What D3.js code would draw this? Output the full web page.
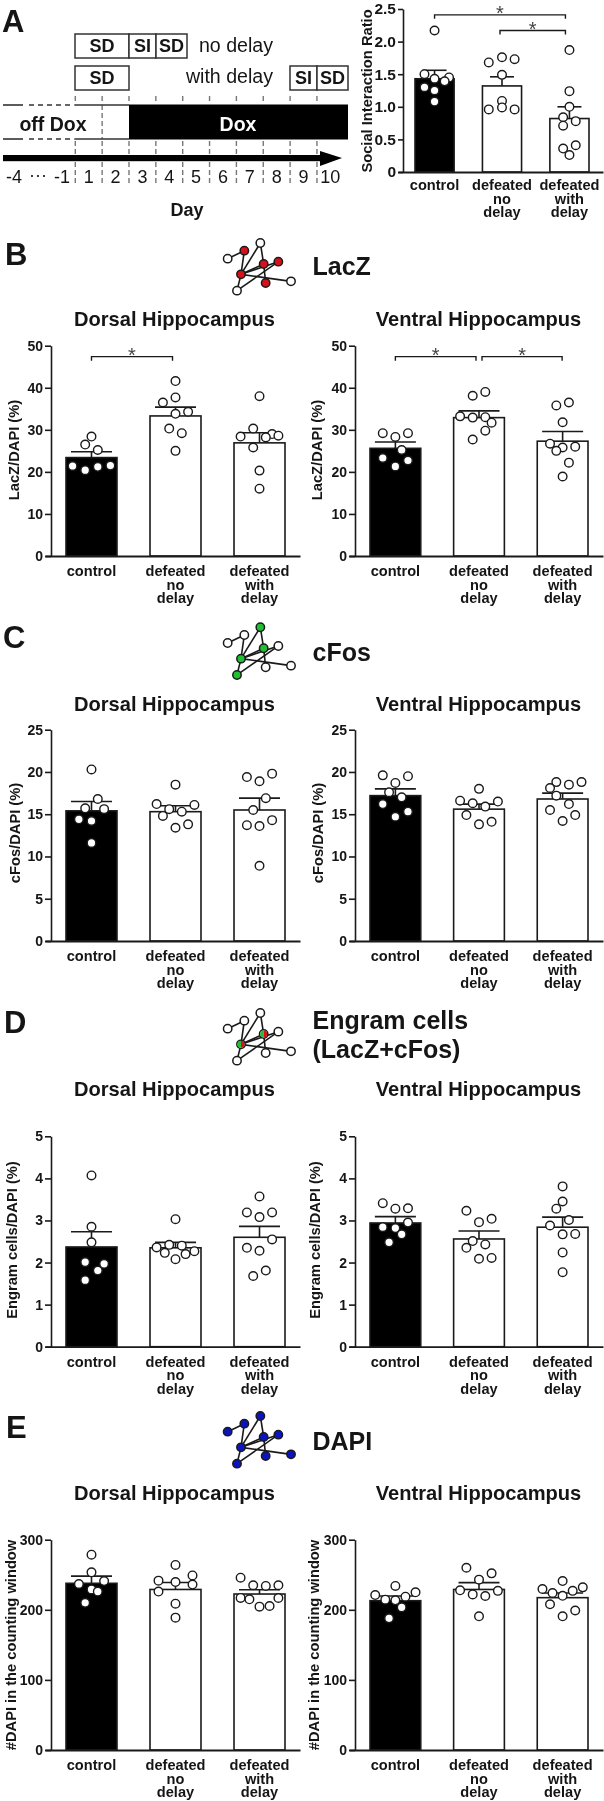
<!DOCTYPE html>
<html><head><meta charset="utf-8">
<style>
html,body{margin:0;padding:0;background:#fff}
svg{display:block;filter:blur(0.45px)}
text{font-family:"Liberation Sans",Arial,sans-serif}
</style>
<script src="https://cdn.jsdelivr.net/npm/d3@7/dist/d3.min.js"></script>
</head><body><svg id="c" width="604" height="1801"></svg>
<script>
// ---------- data ----------
const categories = ["control","defeated no delay","defeated with delay"];
const categoryLines = [["control"],["defeated","no","delay"],["defeated","with","delay"]];

const siMeans = [1.43,1.32,0.82];
const siErrs  = [1.56,1.46,1.00];
const siDots  = [[2.17,1.50,1.45,1.43,1.39,1.30,1.25,1.08],[1.68,1.76,1.73,1.49,1.09,0.99,0.96,0.96],[1.87,1.24,1.00,0.84,0.78,0.71,0.41,0.36,0.26]];
const siJitter= [[0,-1.6,2.3,0,1.6,-1.6,0,0],[-2.1,0,2,0,0,0,-2.1,2],[0,0,0,-1,1,-1,1,-1,0]];

const lacZDorsalMeans = [23.4,33.3,26.9];
const lacZDorsalErrs  = [24.8,35.4,29.3];
const lacZDorsalDots  = [[28.4,26.5,25.2,21.4,20.4,21.2,21.5],[41.6,37.7,36.5,34.3,33.8,30.3,29.2,25.0],[38.0,30.3,28.4,29.0,28.6,28.2,25.8,20.3,16.0]];
const lacZDorsalJitter= [[0,-1,1,-3,-1,1,3],[0,0,-2,2,0,-1,1,0],[0,-1,-3,2,3,1,-1,0,0]];
const lacZVentralMeans = [25.6,32.9,27.3];
const lacZVentralErrs  = [27.1,34.5,29.6];
const lacZVentralDots  = [[29.2,29.2,28.3,25.2,23.3,22.7,21.3],[39.0,38.1,33.2,32.9,33.0,31.7,29.8,27.7],[36.5,35.8,31.8,26.7,26.0,25.8,25.0,22.2,18.9]];
const lacZVentralJitter= [[-2,2,0,1,-2,2,0],[1,-1,-3,-1,1,2,1,-1],[1,-1,0,-2,2,0,-1,1,0]];

const cFosDorsalMeans = [15.4,15.3,15.5];
const cFosDorsalErrs  = [16.5,16.0,16.9];
const cFosDorsalDots  = [[20.3,16.8,15.7,15.6,14.4,14.2,11.6],[18.5,16.2,16.1,15.6,15.3,14.8,13.8,13.4],[19.8,19.4,18.9,16.9,15.5,14.3,13.7,13.6,8.9]];
const cFosDorsalJitter= [[0,1,-1,2,-2,0,0],[0,-3,3,-1,1,-2,2,0],[2,-2,0,1,-1,2,-2,0,0]];
const cFosVentralMeans = [17.2,15.6,16.8];
const cFosVentralErrs  = [18.0,16.2,17.5];
const cFosVentralDots  = [[19.6,19.5,18.7,17.6,17.0,16.2,15.3,14.7],[18.0,16.6,16.5,16.3,15.9,14.9,14.1,13.8],[18.8,18.8,18.5,18.1,17.2,16.2,15.5,14.9,14.2]];
const cFosVentralJitter= [[-2,2,0,-1,1,-2,2,0],[0,-3,3,-1,1,-2,2,0],[3,-1,1,-2,-1,1,-2,2,0]];

const engramDorsalMeans = [2.37,2.35,2.60];
const engramDorsalErrs  = [2.73,2.48,2.86];
const engramDorsalDots  = [[4.07,2.85,2.48,1.97,2.01,1.81,1.58],[3.03,2.42,2.40,2.36,2.27,2.23,2.20,2.08],[3.57,3.19,3.19,3.08,2.55,2.35,2.28,1.81,1.68]];
const engramDorsalJitter= [[0,0,0,2,-1,1,-1],[0,-1,1,-3,3,-1.7,1.6,0],[0,-2,2,0,2,-2,0,1,-1]];
const engramVentralMeans = [2.94,2.56,2.84];
const engramVentralErrs  = [3.09,2.75,3.08];
const engramVentralDots  = [[3.41,3.28,3.29,2.95,2.84,2.82,2.67,2.48],[3.23,3.04,2.96,2.51,2.43,2.35,2.09,2.11],[3.81,3.45,3.28,3.01,2.88,2.68,2.67,2.24,1.77]];
const engramVentralJitter= [[-2,0,2,2,-2,0,1,-1],[-2,2,0,-1,1,-2,0,2],[0,0,-1,1,-2,2,0,0,0]];

const dapiDorsalMeans = [237.8,229,222.5];
const dapiDorsalErrs  = [248,239,228.7];
const dapiDorsalDots  = [[278.6,253.4,241,236.8,229,226,210],[264,249,241.6,239.6,236,226,208.7,188.8],[245.8,235,234,235,217,216.8,215,204.5,205.4]];
const dapiDorsalJitter= [[0,0,2,-2,0,1,-1],[0,2.7,-2.7,0,2.7,-2.7,0,0],[-3,-1,1,3,-3,3,-1.6,0,1.6]];
const dapiVentralMeans = [213,229,217.3];
const dapiVentralErrs  = [219.7,238.7,224];
const dapiVentralDots  = [[234,225,221,218.7,214.5,213.5,203.5,187.8],[260,252,243,227.8,227,222,219.7,190.7],[241,232,229.7,227,224,220,207.8,199,190.7]];
const dapiVentralJitter= [[0,3.2,-3.2,1.6,-1.6,0,1,-1],[-2,2,0,-3,3,-1,1,0],[0,3.2,-3.2,1.6,-1.6,0,-2,2,0]];

const siTicks = [0,0.5,1,1.5,2,2.5];
const lacZTicks = [0,10,20,30,40,50];
const cFosTicks = [0,5,10,15,20,25];
const engramTicks = [0,1,2,3,4,5];
const dapiTicks = [0,100,200,300];

const dayLabels = [1,2,3,4,5,6,7,8,9,10];

// network icon
const iconNodes = [[38,80],[88,56],[136,33],[146,96],[190,89],[78,127],[152,153],[228,148],[66,176]];
const iconEdges = [[0,1],[1,5],[5,2],[2,3],[5,3],[5,4],[5,7],[5,8],[8,4],[3,6]];

// ---------- drawing ----------
const INK="#1a1a1a";
const svg=d3.select("#c");
const JIT=6.3;

function label(g,x,y,t,size,opt={}){
  return g.append("text").attr("x",x).attr("y",y).attr("dy","0.36em")
    .attr("text-anchor",opt.anchor||"middle").attr("font-size",size)
    .attr("font-weight",opt.weight||"bold").attr("fill",opt.fill||"#151515").text(t);
}

function panel(o){
  const g=svg.append("g");
  const y=d3.scaleLinear().domain(o.domain).range([o.y0,o.yTop]);
  const x=d3.scaleBand().domain(categories).range(o.barRange).paddingInner(o.padIn).paddingOuter(0);
  const ax=g.append("g").attr("transform",`translate(${o.axisX},0)`)
    .call(d3.axisLeft(y).tickValues(o.ticks).tickSize(o.tick).tickPadding(2).tickSizeOuter(0).tickFormat(o.fmt||(d=>d)));
  ax.selectAll("path,line").attr("stroke",INK).attr("stroke-width",1.6);
  ax.selectAll("text").attr("font-family",'"Liberation Sans"').attr("font-weight","bold").attr("font-size",o.tickFont||14).attr("fill","#151515");
  g.selectAll(null).data(categories).join("rect")
    .attr("x",d=>x(d)).attr("width",x.bandwidth())
    .attr("y",(d,i)=>y(o.means[i])).attr("height",(d,i)=>o.y0-y(o.means[i]))
    .attr("fill",(d,i)=>i?"#fff":"#000").attr("stroke",INK).attr("stroke-width",1.6);
  const base=d3.scaleLinear().domain([0,1]).range([o.axisX-o.tick,o.right]);
  g.append("g").attr("transform",`translate(0,${o.y0})`)
    .call(d3.axisBottom(base).tickValues([]).tickSize(0))
    .select("path").attr("stroke",INK).attr("stroke-width",1.8);
  categories.forEach((c,i)=>{
    const cx=x(c)+x.bandwidth()/2;
    g.append("line").attr("x1",cx).attr("x2",cx).attr("y1",y(o.means[i])).attr("y2",y(o.errs[i])).attr("stroke",INK).attr("stroke-width",1.6);
    g.append("line").attr("x1",cx-o.cap).attr("x2",cx+o.cap).attr("y1",y(o.errs[i])).attr("y2",y(o.errs[i])).attr("stroke",INK).attr("stroke-width",1.6);
    g.selectAll(null).data(o.dots[i]).join("circle")
      .attr("cx",(d,k)=>cx+o.jitter[i][k]*JIT).attr("cy",d=>y(d)).attr("r",o.r||4.3)
      .attr("fill","#fff").attr("stroke",INK).attr("stroke-width",1.4);
    categoryLines[i].forEach((t,k)=>label(g,cx+(o.labelShift||0),o.y0+o.labelGap+k*13.5,t,14.6));
  });
  g.append("text").attr("transform",`translate(${o.ylabX},${o.ylabY}) rotate(-90)`).attr("dy","0.36em")
    .attr("text-anchor","middle").attr("font-size",14.7).attr("font-weight","bold").attr("fill","#151515").text(o.ylab);
  if(o.title) label(g,(o.barRange[0]+o.barRange[1])/2+o.titleShift,o.titleY,o.title,20.1);
  (o.brackets||[]).forEach(b=>{
    const a=x(categories[b.from])+x.bandwidth()/2+b.ia, e=x(categories[b.to])+x.bandwidth()/2+b.ib, v=y(b.v);
    g.append("path").attr("d",d3.line()([[a,v+4],[a,v],[e,v],[e,v+4]])).attr("fill","none").attr("stroke",INK).attr("stroke-width",1.4);
    label(g,(a+e)/2,v-2,"*",20,{weight:"normal",fill:"#444"});
  });
}

function icon(dy,fills,splitSet){
  const g=svg.append("g");
  const X=d3.scaleLinear().domain([0,90]).range([215,305]);
  const Y=d3.scaleLinear().domain([0,210]).range([dy,dy+70]);
  const px=n=>[X(n[0]/3),Y(n[1])];
  g.selectAll(null).data(iconEdges).join("line")
    .attr("x1",e=>px(iconNodes[e[0]])[0]).attr("y1",e=>px(iconNodes[e[0]])[1])
    .attr("x2",e=>px(iconNodes[e[1]])[0]).attr("y2",e=>px(iconNodes[e[1]])[1])
    .attr("stroke",INK).attr("stroke-width",1.6);
  iconNodes.forEach((n,i)=>{
    const [cx,cy]=px(n);
    g.append("circle").attr("cx",cx).attr("cy",cy).attr("r",4.2).attr("fill",fills[i]||"#fff").attr("stroke",INK).attr("stroke-width",1.5);
    if(splitSet&&splitSet.includes(i)){
      const arc=d3.arc().innerRadius(0).outerRadius(3.5);
      g.append("path").attr("transform",`translate(${cx},${cy})`).attr("d",arc({startAngle:-Math.PI,endAngle:0})).attr("fill","#20c030");
      g.append("path").attr("transform",`translate(${cx},${cy})`).attr("d",arc({startAngle:0,endAngle:Math.PI})).attr("fill","#d8101c");
    }
  });
}

// ---------- Panel A schematic ----------
const day=d3.scaleLinear().domain([1,11]).range([75.3,343.8]);
function box(x0,x1,y0,y1,t){
  svg.append("rect").attr("x",x0).attr("y",y0).attr("width",x1-x0).attr("height",y1-y0).attr("fill","#fff").attr("stroke","#333").attr("stroke-width",1.5);
  label(svg,(x0+x1)/2,(y0+y1)/2,t,18);
}
d3.range(1,11).forEach(d=>{
  const xx=day(d);
  [[96,104],[141,154],[162,183]].forEach(s=>svg.append("line").attr("x1",xx).attr("x2",xx).attr("y1",s[0]).attr("y2",s[1]).attr("stroke","#777").attr("stroke-width",1.4).attr("stroke-dasharray","5 3"));
  if(d===2) svg.append("line").attr("x1",xx).attr("x2",xx).attr("y1",105).attr("y2",139).attr("stroke","#777").attr("stroke-width",1.4).attr("stroke-dasharray","5 3");
});
[105,139].forEach(yy=>{
  svg.append("line").attr("x1",3).attr("x2",23).attr("y1",yy).attr("y2",yy).attr("stroke","#333").attr("stroke-width",1.6);
  svg.append("line").attr("x1",29).attr("x2",73).attr("y1",yy).attr("y2",yy).attr("stroke","#333").attr("stroke-width",1.6).attr("stroke-dasharray","5 4");
  svg.append("line").attr("x1",day(1)-1).attr("x2",day(3)).attr("y1",yy).attr("y2",yy).attr("stroke","#333").attr("stroke-width",1.6);
});
svg.append("rect").attr("x",day(3)).attr("y",104.5).attr("width",348-day(3)).attr("height",35).attr("fill","#000");
label(svg,53,124,"off Dox",19.5);
label(svg,238,123.5,"Dox",19.5,{fill:"#fff"});
box(75,129,34,58,"SD"); box(129,156,34,58,"SI"); box(156,187,34,58,"SD");
box(75,129,66,90,"SD"); box(290,317,66,90,"SI"); box(317,348,66,90,"SD");
label(svg,236,45,"no delay",19.6,{weight:"normal"});
label(svg,229.5,76,"with delay",19.6,{weight:"normal"});
svg.append("rect").attr("x",3).attr("y",155).attr("width",318).attr("height",6.2).attr("fill","#000");
svg.append("path").attr("d",d3.line()([[320,151],[342,158],[320,166]])).attr("fill","#000");
label(svg,14,177,"-4",18,{weight:"normal"});
label(svg,38,175,"···",18,{weight:"normal"});
label(svg,62,177,"-1",18,{weight:"normal"});
dayLabels.forEach(d=>label(svg,day(d)+13.4,177,d,18,{weight:"normal"}));
label(svg,187,210,"Day",18);

// ---------- letters ----------
[["A",2,20.5],["B",5,253.5],["C",3,636.5],["D",4,1021.5],["E",6,1426.5]].forEach(l=>label(svg,l[1],l[2],l[0],31,{anchor:"start"}));

// ---------- panels ----------
const dorsal={axisX:51,barRange:[66,285],padIn:.393,right:300,tick:6,cap:20.5,titleShift:-1,ylabX:13.5};
const ventral={axisX:355,barRange:[370,588],padIn:.393,right:603,tick:6,cap:20.5,titleShift:-0.5,ylabX:317};

panel({axisX:403,barRange:[415,589],padIn:.42,right:603,tick:5,cap:12,domain:[0,2.5],y0:172,yTop:9,ticks:siTicks,
  fmt:d=>d===0?"0":d3.format(".1f")(d),tickFont:15.5,means:siMeans,errs:siErrs,dots:siDots,jitter:siJitter,labelGap:13,ylab:"Social Interaction Ratio",ylabX:367,ylabY:91,labelShift:0,
  brackets:[{from:0,to:2,ia:0,ib:-4,v:2.41},{from:1,to:2,ia:-2,ib:-4,v:2.17}]});

function pair(domain,y0,yTop,ticks,ylab,titleY,ylabY,ylX,means,errs,dots,jit,means2,errs2,dots2,jit2,brD,brV){
  panel(Object.assign({},dorsal,{domain,y0,yTop,ticks,ylab,title:"Dorsal Hippocampus",titleY,ylabY,ylabX:ylX[0],labelGap:15,means,errs,dots,jitter:jit,brackets:brD}));
  panel(Object.assign({},ventral,{domain,y0,yTop,ticks,ylab,title:"Ventral Hippocampus",titleY,ylabY,ylabX:ylX[1],labelGap:15,means:means2,errs:errs2,dots:dots2,jitter:jit2,brackets:brV}));
}
pair([0,50],556,345.7,lacZTicks,"LacZ/DAPI (%)",319,450,[13.5,317],lacZDorsalMeans,lacZDorsalErrs,lacZDorsalDots,lacZDorsalJitter,lacZVentralMeans,lacZVentralErrs,lacZVentralDots,lacZVentralJitter,
  [{from:0,to:1,ia:0,ib:-3,v:47.4}],[{from:0,to:1,ia:0,ib:-3,v:47.4},{from:1,to:2,ia:3,ib:-0.5,v:47.4}]);
pair([0,25],941,729.7,cFosTicks,"cFos/DAPI (%)",704,833,[15,318],cFosDorsalMeans,cFosDorsalErrs,cFosDorsalDots,cFosDorsalJitter,cFosVentralMeans,cFosVentralErrs,cFosVentralDots,cFosVentralJitter);
pair([0,5],1346.7,1136.3,engramTicks,"Engram cells/DAPI (%)",1089,1240,[11.5,315],engramDorsalMeans,engramDorsalErrs,engramDorsalDots,engramDorsalJitter,engramVentralMeans,engramVentralErrs,engramVentralDots,engramVentralJitter);
pair([0,300],1750,1539.7,dapiTicks,"#DAPI in the counting window",1493,1645,[11,314],dapiDorsalMeans,dapiDorsalErrs,dapiDorsalDots,dapiDorsalJitter,dapiVentralMeans,dapiVentralErrs,dapiVentralDots,dapiVentralJitter);

// ---------- headings & icons ----------
const R="#d8101c",G="#20c030",B="#0c14c0";
icon(232,{1:R,3:R,4:R,5:R,6:R});
icon(616.3,{2:G,3:G,5:G,8:G});
icon(1002,{},[3,5]);
icon(1405,{0:B,1:B,2:B,3:B,4:B,5:B,6:B,7:B,8:B});
label(svg,312.5,266,"LacZ",25,{anchor:"start"});
label(svg,312.5,652,"cFos",25,{anchor:"start"});
label(svg,312.5,1020,"Engram cells",25,{anchor:"start"});
label(svg,312.5,1049,"(LacZ+cFos)",25,{anchor:"start"});
label(svg,312.5,1441,"DAPI",25,{anchor:"start"});
</script></body></html>
